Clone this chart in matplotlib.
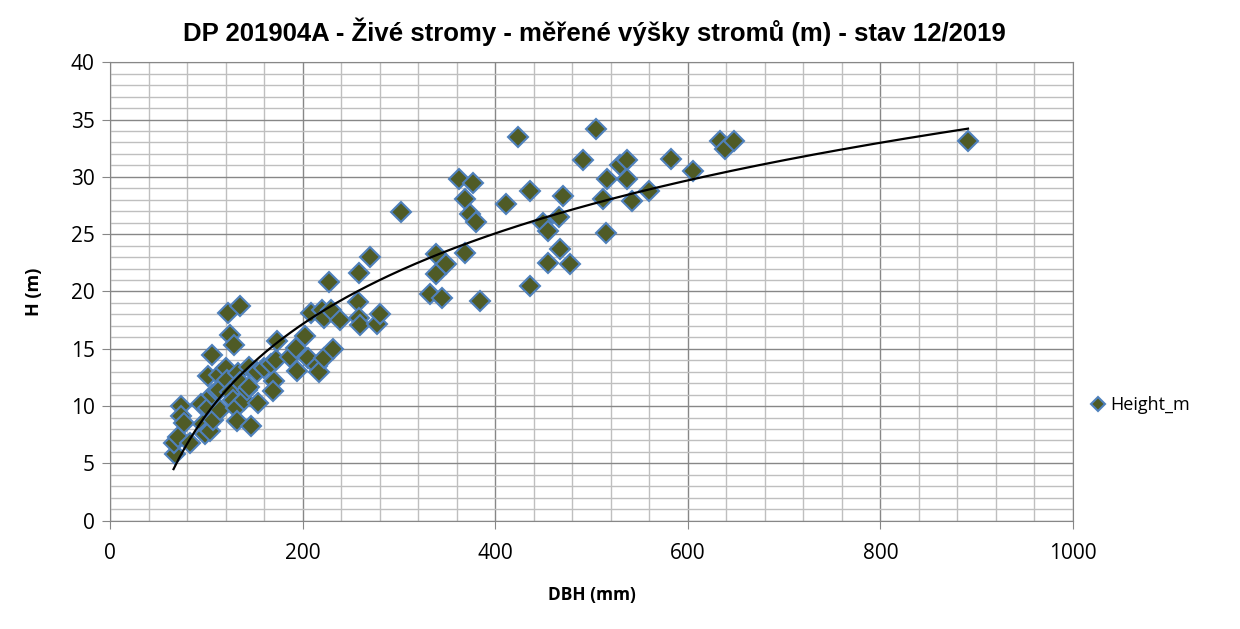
import numpy as np
import matplotlib.pyplot as plt
from matplotlib.ticker import MultipleLocator

dbh = [67, 66, 71, 83, 74, 74, 77, 94, 97, 99, 104, 102, 106, 106, 102, 107, 111, 113,
       114, 113, 120, 123, 135, 125, 129, 122, 125, 128, 131, 132, 133, 135, 139, 142,
       144, 144, 146, 153, 154, 160, 167, 170, 169, 172, 173,
       187, 194, 193, 203, 206, 209, 215, 217, 220, 222, 222, 227, 229, 232, 239, 258,
       259, 259, 260, 270, 277, 280, 302,
       332, 339, 339, 345, 349, 362, 369, 369, 374, 377, 380, 384, 411, 424, 436, 436,
       450, 455, 455, 466, 467, 470, 478, 491, 505, 512, 515, 516, 530, 537, 537, 542,
       560, 583, 605, 633, 639, 648, 891]
height = [5.8, 6.8, 7.3, 6.8, 10.0, 9.1, 8.5, 10.2, 8.4, 7.6, 7.8, 9.8, 14.5, 11.0, 12.6,
          8.8, 11.3, 12.7, 9.7, 11.4, 13.3, 18.1, 18.7, 16.2, 15.3, 12.3, 11.25, 10.5,
          9.8, 8.7, 12.9, 12.1, 10.5, 11.4, 13.4, 11.7, 8.3, 13.0, 10.3, 13.3, 13.7,
          12.2, 11.3, 14.0, 15.7,
          14.3, 13.1, 15.1, 16.1, 14.2, 18.1, 13.5, 13.0, 18.4, 14.2, 17.7, 20.8, 18.4,
          15.0, 17.5, 19.1, 21.6, 17.7, 17.1, 23.0, 17.2, 18.0, 26.9,
          19.8, 23.3, 21.5, 19.4, 22.4, 29.8, 23.4, 28.1, 26.8, 29.5, 26.1, 19.2, 27.6,
          33.5, 28.8, 20.5, 26.0, 25.3, 22.5, 26.5, 23.7, 28.3, 22.4, 31.5, 34.2, 28.1,
          25.1, 29.8, 31.0, 31.5, 29.8, 27.9, 28.8, 31.6, 30.5, 33.1, 32.4, 33.1, 33.1]

x = np.array(dbh, dtype=float)
y = np.array(height)

# logarithmic trendline as in Excel
a, b = np.polyfit(np.log(x), y, 1)
xs = np.linspace(x.min(), x.max(), 300)

fig = plt.figure(figsize=(12.4, 6.29), dpi=100)
ax = fig.add_axes([0.0887, 0.1722, 0.7766, 0.7288])

ax.plot(x, y, linestyle='none', marker='D', ms=10, mfc='#4F5B26', mec='#4F81BD',
        mew=1.5, label='Height_m', zorder=3)
ax.plot(xs, a * np.log(xs) + b, color='black', lw=1.6, zorder=4)

ax.set_xlim(0, 1000)
ax.set_ylim(0, 40)
ax.xaxis.set_major_locator(MultipleLocator(200))
ax.xaxis.set_minor_locator(MultipleLocator(40))
ax.yaxis.set_major_locator(MultipleLocator(5))
ax.yaxis.set_minor_locator(MultipleLocator(1))
ax.grid(which='major', color='#878787', lw=1.0)
ax.grid(which='minor', color='#BFBFBF', lw=1.0)
ax.set_axisbelow(True)
for s in ax.spines.values():
    s.set_color('#878787')
ax.tick_params(which='major', length=6, color='#878787', labelsize=15, pad=5)
ax.tick_params(which='minor', length=0)
ax.tick_params(axis='x', pad=10)
for lab in ax.get_xticklabels() + ax.get_yticklabels():
    lab.set_family('Open Sans')

ax.set_xlabel('DBH (mm)', fontsize=12.5, fontweight='bold', family='Open Sans', labelpad=16)
ax.set_ylabel('H (m)', fontsize=13, fontweight='bold', family='Open Sans', labelpad=20)
fig.suptitle('DP 201904A - Živé stromy - měřené výšky stromů (m) - stav 12/2019',
             x=0.479, y=0.972, fontsize=18.5, fontweight='bold', family='Liberation Sans')

fig.legend(loc='center left', bbox_to_anchor=(0.868, 0.356), frameon=False,
           prop={'family': 'Open Sans', 'size': 13}, handlelength=0.6,
           handletextpad=0.4, markerscale=0.75)

fig.savefig('out.png', dpi=100)
